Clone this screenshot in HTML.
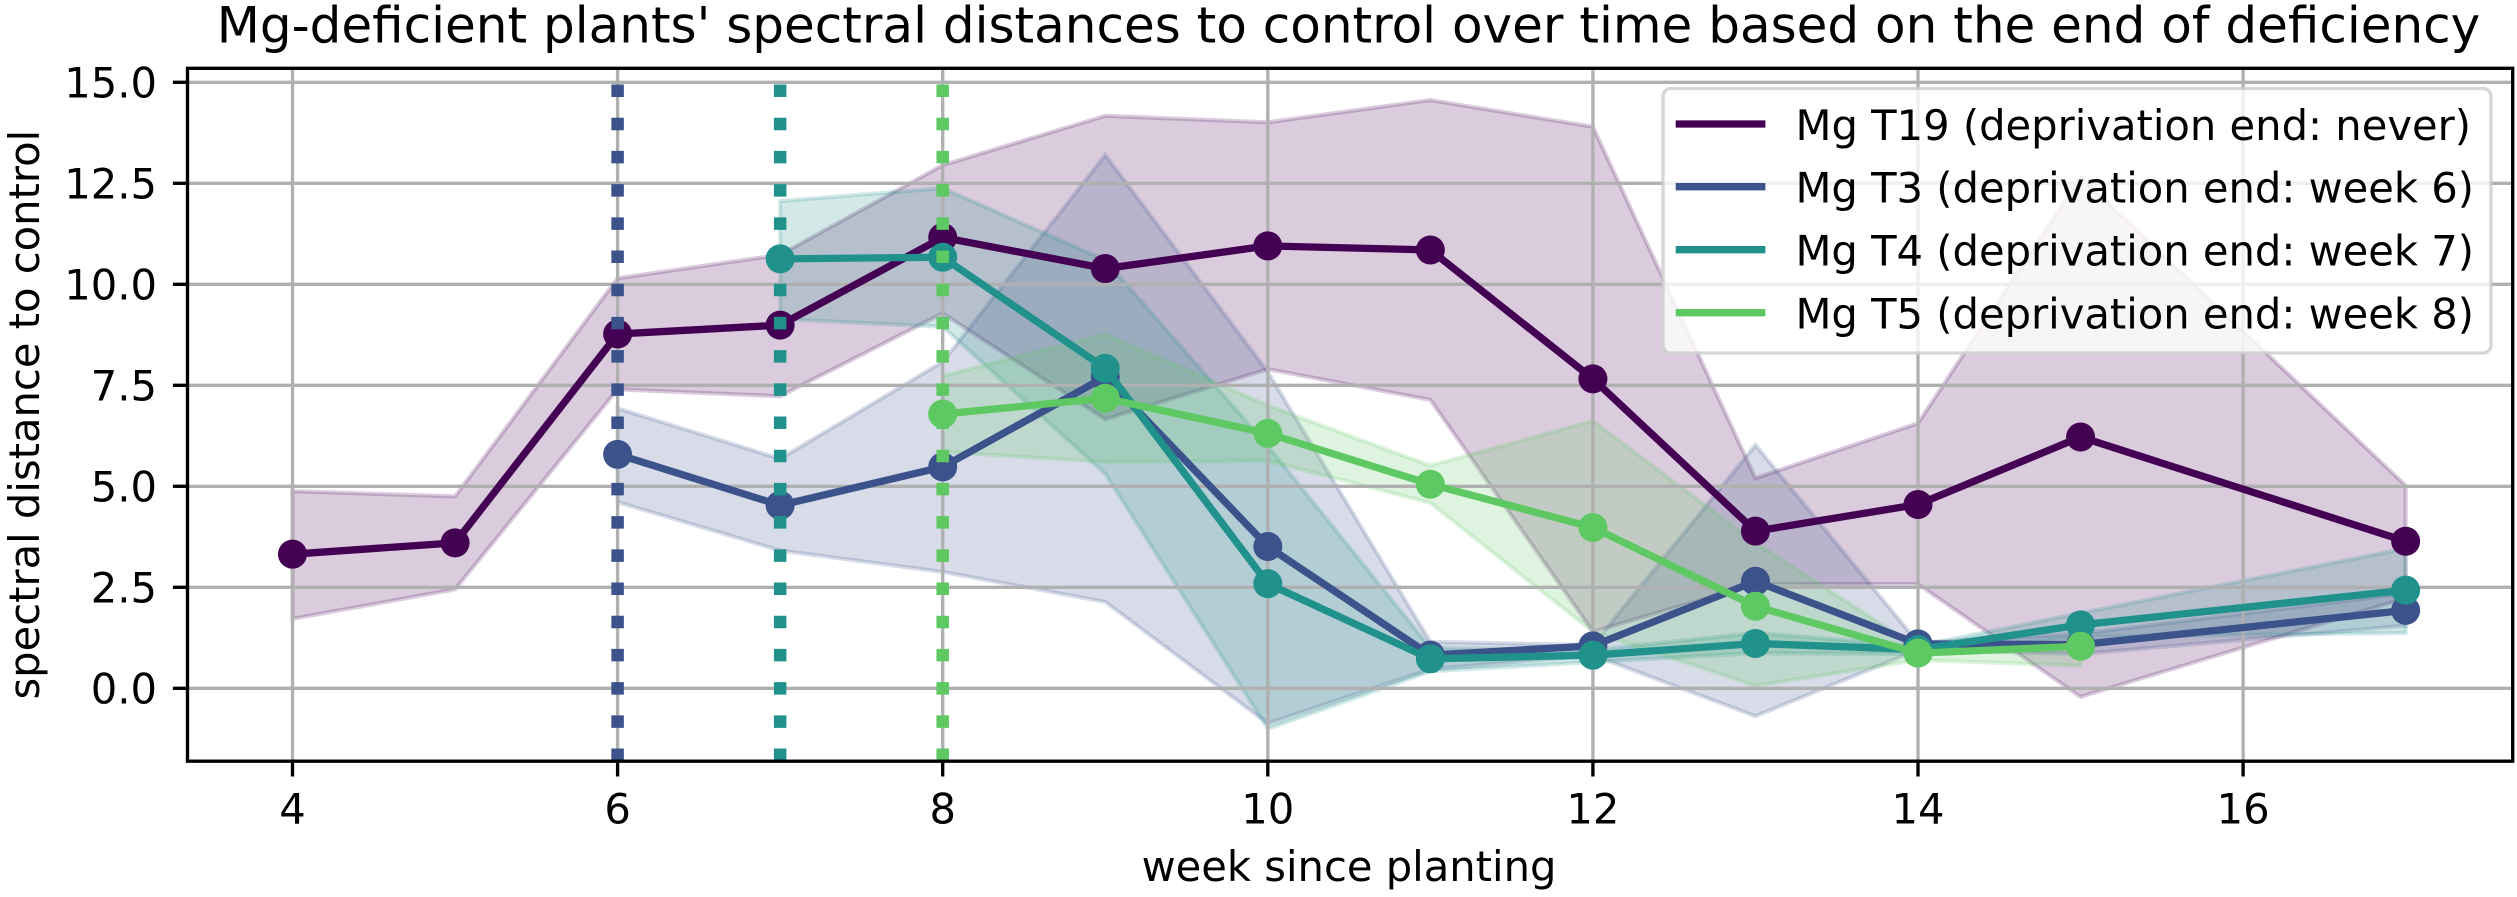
<!DOCTYPE html>
<html lang="en">
<head>
<meta charset="utf-8">
<title>Mg-deficient plants' spectral distances to control</title>
<style>
  html, body { margin: 0; padding: 0; background: #ffffff; }
  body { width: 2517px; height: 897px; overflow: hidden; }
  svg { display: block; }
  text { font-family: "DejaVu Sans", "Liberation Sans", sans-serif; fill: #000000; }
</style>
</head>
<body>
<svg id="chart" xmlns="http://www.w3.org/2000/svg" width="2517" height="897" viewBox="0 0 2517 897">
  <defs>
    <clipPath id="plot-clip"><rect x="187.5" y="68.3" width="2325.2" height="692.9"/></clipPath>
  </defs>
  <rect x="0" y="0" width="2517" height="897" fill="#ffffff"/>
  <g id="bands-layer" clip-path="url(#plot-clip)"></g>
  <g id="grid-layer" clip-path="url(#plot-clip)"></g>
  <g id="series-layer" clip-path="url(#plot-clip)"></g>
  <g id="axes-layer"></g>

  <text x="1348.5" y="42.7" font-size="50" text-anchor="middle">Mg-deficient plants' spectral distances to control over time based on the end of deficiency</text>
  <text x="1349" y="881" font-size="41.67" text-anchor="middle">week since planting</text>
  <text transform="translate(39 414.7) rotate(-90)" x="0" y="0" font-size="41.67" text-anchor="middle">spectral distance to control</text>

  <g>
    <rect x="1663" y="88.5" width="828" height="264.5" rx="8" ry="8" fill="#ffffff" fill-opacity="0.8" stroke="#cccccc" stroke-opacity="0.8" stroke-width="3.33"/>
    <g>
      <line x1="1675.7" x2="1765.4" y1="124" y2="124" stroke="#440154" stroke-width="7.3"/>
      <text x="1795.5" y="140" font-size="41.67" textLength="675.5" lengthAdjust="spacing">Mg T19 (deprivation end: never)</text>
    </g>
    <g>
      <line x1="1675.7" x2="1765.4" y1="186.7" y2="186.7" stroke="#3b528b" stroke-width="7.3"/>
      <text x="1795.5" y="202.5" font-size="41.67" textLength="678.5" lengthAdjust="spacing">Mg T3 (deprivation end: week 6)</text>
    </g>
    <g>
      <line x1="1675.7" x2="1765.4" y1="249.7" y2="249.7" stroke="#21918c" stroke-width="7.3"/>
      <text x="1795.5" y="265.5" font-size="41.67" textLength="678.5" lengthAdjust="spacing">Mg T4 (deprivation end: week 7)</text>
    </g>
    <g>
      <line x1="1675.7" x2="1765.4" y1="312.7" y2="312.7" stroke="#5ec962" stroke-width="7.3"/>
      <text x="1795.5" y="328.5" font-size="41.67" textLength="678.5" lengthAdjust="spacing">Mg T5 (deprivation end: week 8)</text>
    </g>
  </g>
</svg>

<script>
// Axis tick labels
var xTicks = [4, 6, 8, 10, 12, 14, 16];
var yTicks = [0, 2.5, 5, 7.5, 10, 12.5, 15];

// Mg T19 (never)
var t19Weeks = [4, 5, 6, 7, 8, 9, 10, 11, 12, 13, 14, 15, 17];
var t19Mean  = [3.32, 3.6, 8.77, 8.99, 11.16, 10.39, 10.95, 10.85, 7.66, 3.89, 4.55, 6.22, 3.64];
var t19Upper = [4.88, 4.75, 10.15, 10.73, 12.95, 14.17, 14.01, 14.56, 13.9, 5.2, 6.56, 12.66, 5.02];
var t19Lower = [1.72, 2.45, 7.4, 7.23, 9.28, 6.66, 7.9, 7.14, 1.4, 2.58, 2.58, -0.21, 2.23];

// Mg T3 (week 6)
var t3Weeks = [6, 7, 8, 9, 10, 11, 12, 13, 14, 15, 17];
var t3Mean  = [5.79, 4.53, 5.48, 7.71, 3.51, 0.82, 1.05, 2.65, 1.1, 1.08, 1.93];
var t3Upper = [6.93, 5.68, 8.08, 13.2, 7.83, 1.15, 1.07, 6.02, 1.13, 1.35, 2.35];
var t3Lower = [4.61, 3.41, 2.88, 2.14, -0.87, 0.47, 0.82, -0.69, 0.95, 0.85, 1.55];

// Mg T4 (week 7)
var t4Weeks = [7, 8, 9, 10, 11, 12, 13, 14, 15, 17];
var t4Mean  = [10.63, 10.67, 7.92, 2.59, 0.73, 0.82, 1.11, 0.96, 1.57, 2.43];
var t4Upper = [12.06, 12.38, 10.6, 6.0, 1.0, 0.95, 1.37, 1.05, 1.86, 3.46];
var t4Lower = [9.14, 8.95, 5.31, -1.0, 0.42, 0.65, 0.87, 0.85, 1.27, 1.37];

// Mg T5 (week 8)
var t5Weeks = [8, 9, 10, 11, 12, 13, 14, 15];
var t5Mean  = [6.79, 7.18, 6.31, 5.05, 3.98, 2.03, 0.87, 1.04];
var t5Upper = [7.73, 8.76, 7.0, 5.51, 6.62, 3.6, 1.0, 1.15];
var t5Lower = [5.85, 5.6, 5.63, 4.59, 1.4, 0.06, 0.7, 0.56];

// Deprivation end weeks (dotted vertical lines)
var t3End = 6;
var t4End = 7;
var t5End = 8;

var SVG_NS = 'http://www.w3.org/2000/svg';
var plotLeft = 187.5, plotRight = 2512.7, plotTop = 68.3, plotBottom = 761.2;

function xScale(week) { return 292.5 + (week - 4) * 162.55; }
function yScale(value) { return 688.3 - 40.4 * value; }
var yAxisFloor = -1.8;
var yLineCeil = 15;

function shape(parent, tag, attrs) {
  var node = document.createElementNS(SVG_NS, tag);
  for (var key in attrs) { node.setAttribute(key, attrs[key]); }
  parent.appendChild(node);
  return node;
}

var bandsLayer = document.getElementById('bands-layer');
var gridLayer = document.getElementById('grid-layer');
var seriesLayer = document.getElementById('series-layer');
var axesLayer = document.getElementById('axes-layer');

function drawBand(id, color, weeks, upper, lower) {
  var pts = [];
  for (var i = 0; i < weeks.length; i++) { pts.push(xScale(weeks[i]) + ',' + yScale(upper[i])); }
  for (var j = weeks.length - 1; j >= 0; j--) { pts.push(xScale(weeks[j]) + ',' + yScale(lower[j])); }
  var band = shape(bandsLayer, 'polygon', {
    points: pts.join(' '), fill: color, 'fill-opacity': 0.2,
    stroke: color, 'stroke-opacity': 0.2, 'stroke-width': 4.17, 'stroke-linejoin': 'miter'
  });
  
  
}

function drawSeries(id, color, weeks, values) {
  var group = shape(seriesLayer, 'g', {});
  
  
  var pts = [];
  for (var i = 0; i < weeks.length; i++) { pts.push(xScale(weeks[i]) + ',' + yScale(values[i])); }
  var line = shape(group, 'polyline', {
    points: pts.join(' '), fill: 'none', stroke: color, 'stroke-width': 7.3,
    'stroke-linejoin': 'round', 'stroke-linecap': 'square'
  });
  
  
  for (var k = 0; k < weeks.length; k++) {
    var dot = shape(group, 'circle', { cx: xScale(weeks[k]), cy: yScale(values[k]), r: 14.5, fill: color });
    
    
  }
}

function drawEndLine(id, color, week) {
  var end = shape(seriesLayer, 'line', {
    x1: xScale(week), x2: xScale(week), y1: yScale(yAxisFloor), y2: yScale(yLineCeil),
    stroke: color, 'stroke-width': 12.5, 'stroke-dasharray': '12.5 20.7'
  });
  
  
}

// Bands sit below the grid
drawBand('t19', '#440154', t19Weeks, t19Upper, t19Lower);
drawBand('t3', '#3b528b', t3Weeks, t3Upper, t3Lower);
drawBand('t4', '#21918c', t4Weeks, t4Upper, t4Lower);
drawBand('t5', '#5ec962', t5Weeks, t5Upper, t5Lower);

// Grid
xTicks.forEach(function (t) {
  var g = shape(gridLayer, 'line', { x1: xScale(t), x2: xScale(t), y1: plotTop, y2: plotBottom, stroke: '#b0b0b0', 'stroke-width': 3.33 });
  
  
});
yTicks.forEach(function (t) {
  var g = shape(gridLayer, 'line', { x1: plotLeft, x2: plotRight, y1: yScale(t), y2: yScale(t), stroke: '#b0b0b0', 'stroke-width': 3.33 });
  
  
});

// Series and dotted lines, painted in the reference's stacking order
drawSeries('t19', '#440154', t19Weeks, t19Mean);
drawEndLine('t3', '#3b528b', t3End);
drawSeries('t3', '#3b528b', t3Weeks, t3Mean);
drawEndLine('t4', '#21918c', t4End);
drawSeries('t4', '#21918c', t4Weeks, t4Mean);
drawEndLine('t5', '#5ec962', t5End);
drawSeries('t5', '#5ec962', t5Weeks, t5Mean);

// Ticks and tick labels
xTicks.forEach(function (t) {
  var mark = shape(axesLayer, 'line', { x1: xScale(t), x2: xScale(t), y1: plotBottom, y2: plotBottom + 15.3, stroke: '#000000', 'stroke-width': 3.33 });
  
  
  var label = shape(axesLayer, 'text', { x: xScale(t), y: 823.7, 'font-size': 41.67, 'text-anchor': 'middle' });
  label.textContent = String(t);
  
  
});
yTicks.forEach(function (t) {
  var mark = shape(axesLayer, 'line', { x1: plotLeft - 14.6, x2: plotLeft, y1: yScale(t), y2: yScale(t), stroke: '#000000', 'stroke-width': 3.33 });
  
  
  var label = shape(axesLayer, 'text', { x: 157, y: yScale(t) + 15.2, 'font-size': 41.67, 'text-anchor': 'end' });
  label.textContent = t.toFixed(1);
  
  
});

// Spines
var frame = shape(axesLayer, 'rect', {
  x: plotLeft, y: plotTop, width: plotRight - plotLeft, height: plotBottom - plotTop,
  fill: 'none', stroke: '#000000', 'stroke-width': 3.33
});


</script>
</body>
</html>
